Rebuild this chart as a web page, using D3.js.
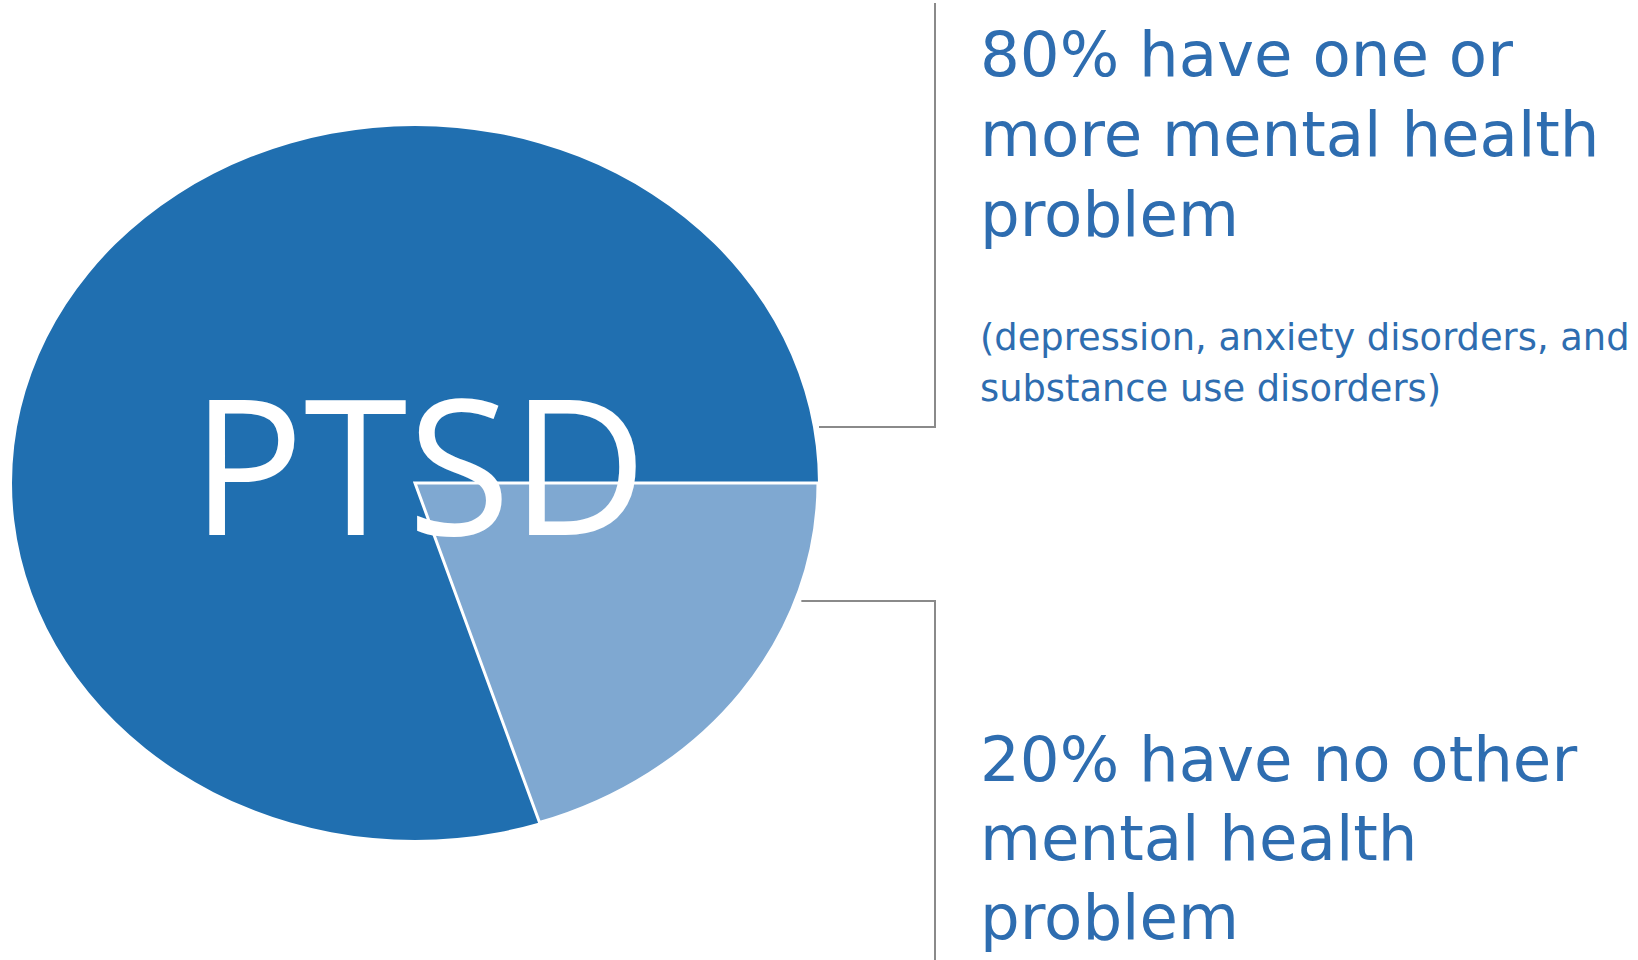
<!DOCTYPE html>
<html>
<head>
<meta charset="utf-8">
<script src="https://cdn.jsdelivr.net/npm/d3@7"></script>
<style>
  html, body { margin: 0; padding: 0; background: #fff; }
  svg { display: block; }
</style>
</head>
<body>
<div id="chart"></div>
<script>
// data
const categories = ["No other mental health problem", "One or more mental health problem"];
const shares = [20, 80];
const sliceColors = ["#7FA8D1", "#206FB0"];
const centerLabel = "PTSD";
const upperLines = ["80% have one or", "more mental health", "problem"];
const upperNote = ["(depression, anxiety disorders, and", "substance use disorders)"];
const lowerLines = ["20% have no other", "mental health", "problem"];

var width = 1638
var height = 960

// pie is drawn as an ellipse
var cx = 415, cy = 483, rx = 403, ry = 357

var textColor = "#2E6DB0"
var lineColor = "#8A8A8A"

var svg = d3.select("#chart")
  .append("svg")
  .attr("width", width)
  .attr("height", height)

// pie starts at 3 o'clock, small slice first, going clockwise
var pie = d3.pie()
  .sort(null)
  .startAngle(Math.PI / 2)
  .endAngle(Math.PI / 2 + 2 * Math.PI)
  .value(function(d) { return d })

var arc = d3.arc()
  .innerRadius(0)
  .outerRadius(1)

var data_ready = pie(shares)

var g = svg.append("g")
  .attr("transform", "translate(" + cx + "," + cy + ") scale(" + rx + "," + ry + ")")

// dark slice first so the light one's white edge sits on top
g.selectAll("path")
  .data(data_ready.slice().reverse())
  .enter()
  .append("path")
  .attr("d", arc)
  .attr("fill", function(d) { return sliceColors[d.index] })
  .attr("stroke", function(d) { return d.index === 0 ? "white" : "none" })
  .attr("stroke-width", 3)
  .attr("stroke-linejoin", "miter")
  .attr("vector-effect", "non-scaling-stroke")
  .append("title")
  .text(function(d) { return categories[d.index] + ": " + d.data + "%" })

// center label
svg.append("text")
  .attr("x", cx + 4)
  .attr("y", cy + 52)
  .attr("text-anchor", "middle")
  .attr("fill", "white")
  .style("font-family", "'Open Sans', sans-serif")
  .style("font-size", "188px")
  .text(centerLabel)

// leader lines (bracket shape)
var bracketX = 935
function edgeX(y) {
  var t = (y - cy) / ry
  return cx + rx * Math.sqrt(1 - t * t)
}
var upperY = 427, lowerY = 601

svg.append("polyline")
  .attr("points", [[edgeX(upperY) + 6, upperY], [bracketX, upperY], [bracketX, 3]].join(" "))
  .attr("fill", "none")
  .attr("stroke", lineColor)
  .attr("stroke-width", 2)

svg.append("polyline")
  .attr("points", [[edgeX(lowerY) + 6, lowerY], [bracketX, lowerY], [bracketX, height]].join(" "))
  .attr("fill", "none")
  .attr("stroke", lineColor)
  .attr("stroke-width", 2)

// text blocks
var textX = 980
function block(lines, y0, step, size) {
  svg.append("g")
    .selectAll("text")
    .data(lines)
    .enter()
    .append("text")
    .attr("x", textX)
    .attr("y", function(d, i) { return y0 + i * step })
    .attr("fill", textColor)
    .style("font-family", "'DejaVu Sans', sans-serif")
    .style("font-size", size + "px")
    .text(function(d) { return d })
}

block(upperLines, 76, 80, 62.6)
block(upperNote, 350, 51, 36.8)
block(lowerLines, 781, 79, 62.6)
</script>
</body>
</html>
